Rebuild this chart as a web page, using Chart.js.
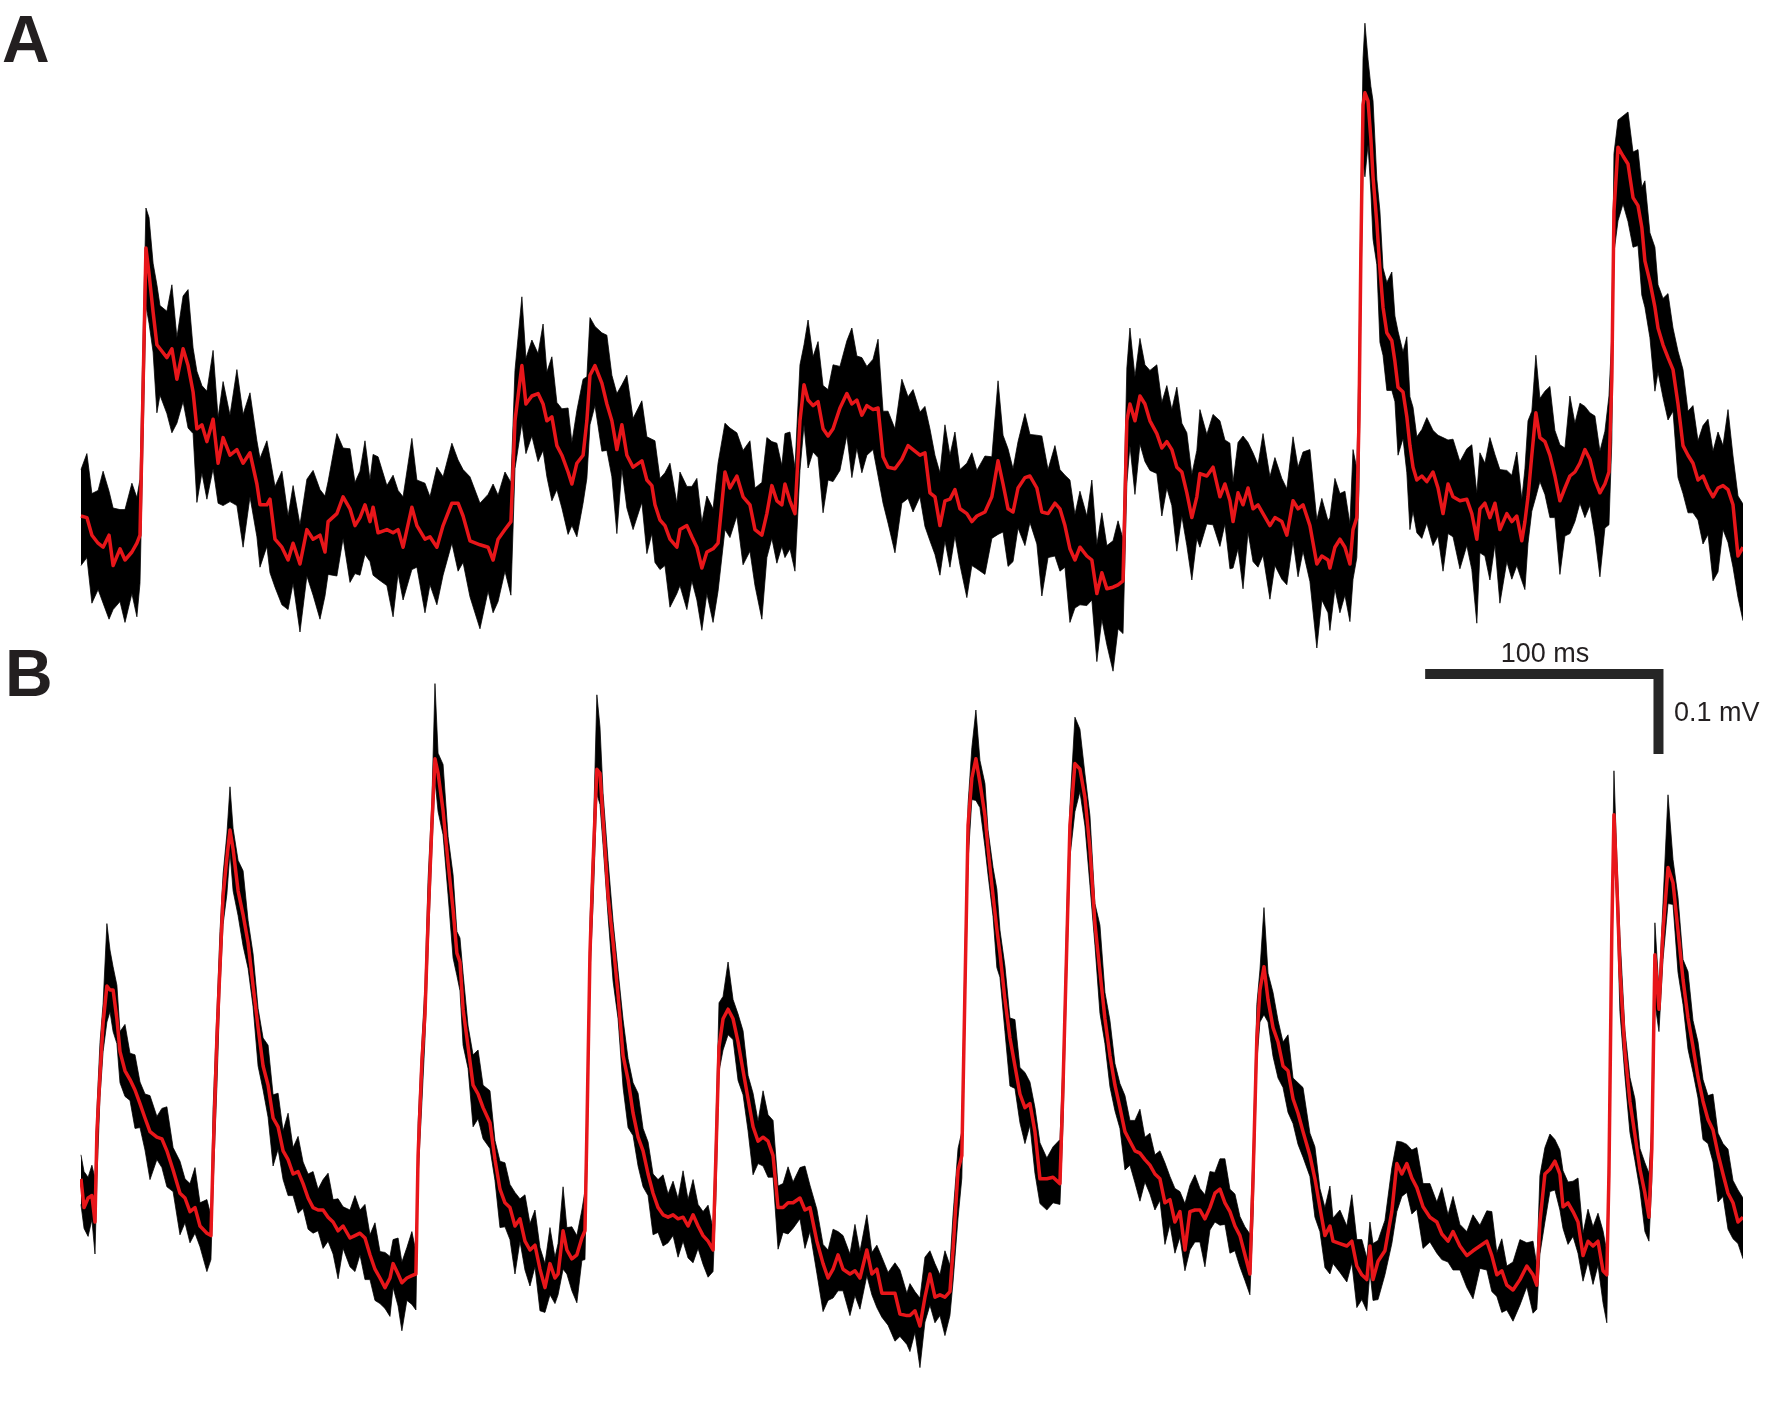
<!DOCTYPE html>
<html>
<head>
<meta charset="utf-8">
<title>Field potential traces A and B</title>
<script src="https://cdn.jsdelivr.net/npm/chart.js@4.4.0/dist/chart.umd.min.js"></script>
<style>
  body { margin: 0; width: 1772px; height: 1412px; background: #fff; position: relative; overflow: hidden; font-family: "Liberation Sans", Arial, sans-serif; }
  canvas { position: absolute; left: 0; }
  #traceA { top: 0; }
  #traceB { top: 640px; }
  .panel { position: absolute; font-weight: bold; font-size: 66px; line-height: 1; color: #231f20; }
  .bar-label { position: absolute; font-size: 27px; line-height: 1; color: #231f20; white-space: nowrap; }
</style>
</head>
<body>
<canvas id="traceA" width="1772" height="700"></canvas>
<canvas id="traceB" width="1772" height="772"></canvas>
<div class="panel" style="left:2px; top:6px;">A</div>
<div class="panel" style="left:5px; top:640px;">B</div>
<div class="bar-label" style="left:1545px; top:640px; transform:translateX(-50%);">100 ms</div>
<div class="bar-label" style="left:1674px; top:699px;">0.1 mV</div>
<script>
// time in ms, voltage in µV (relative)
// trace A
const timeA = [0.4,2.9,5.0,7.6,9.7,12.2,13.9,16.8,18.9,21.8,23.9,25.2,27.7,29.0,30.7,32.3,33.6,36.5,38.6,40.7,43.3,45.4,47.5,49.1,51.2,53.3,55.9,58.0,60.1,63.0,65.9,68.5,71.4,74.3,75.6,78.5,79.8,81.9,84.8,87.4,89.5,92.4,95.3,97.9,100.8,102.9,104.2,107.9,110.5,113.4,115.5,117.6,119.7,121.8,123.1,125.2,128.9,131.5,133.6,135.7,139.4,141.5,144.9,147.0,149.9,152.5,156.2,158.8,160.9,163.8,168.0,171.4,
  173.5,175.6,178.5,181.0,182.7,185.6,187.3,189.8,192.4,194.5,196.1,198.2,200.3,202.4,205.0,206.6,208.7,211.3,212.9,214.2,216.3,219.2,221.3,223.4,225.5,227.6,229.7,232.3,236.0,238.1,240.2,241.5,243.6,245.7,247.8,250.7,252.0,254.9,257.0,259.1,261.2,263.3,265.9,268.0,270.9,273.0,275.9,278.5,281.4,283.5,286.4,288.5,290.6,292.7,294.8,296.1,298.2,300.3,302.4,304.1,305.8,307.9,310.0,312.1,314.2,316.3,319.2,322.1,324.2,326.3,328.4,330.5,333.1,335.2,337.3,339.4,342.3,345.2,347.8,
  349.9,352.8,354.9,357.0,359.1,361.2,363.3,365.4,367.5,369.6,372.5,374.6,376.7,380.1,383.0,385.6,387.7,389.8,391.9,394.0,396.9,399.0,401.9,404.0,406.6,409.5,411.6,413.7,415.8,417.9,420.0,422.9,425.0,427.1,429.2,431.3,433.9,436.0,438.1,439.7,441.0,443.1,445.2,447.3,449.4,452.3,454.4,456.5,458.6,460.7,462.8,464.9,467.0,469.1,470.4,473.3,475.9,478.8,480.9,483.0,484.3,486.4,488.5,490.6,492.7,494.8,496.9,499.8,501.9,504.8,506.9,509.5,511.6,513.7,516.6,519.5,521.6,524.2,
  525.0,527.1,529.2,531.3,533.4,534.7,536.3,537.2,538.0,538.9,539.7,541.0,542.2,543.1,544.7,546.0,547.3,548.9,551.0,552.3,553.6,555.7,557.3,558.6,559.9,561.5,563.6,565.7,568.3,570.4,572.5,574.6,576.7,579.6,582.5,584.6,586.7,588.0,590.1,592.2,594.3,596.4,599.3,601.4,603.5,605.6,606.9,608.2,609.8,611.5,613.2,615.3,617.4,619.5,621.6,623.7,625.8,627.9,630.0,632.1,634.2,636.3,638.4,640.5,642.2,643.4,644.3,646.0,648.1,650.2,652.3,654.4,656.0,657.3,659.4,661.5,662.8,664.9,667.0,669.1,671.2,673.3,675.4,677.5,679.6,681.7,683.8,685.9,688.0,690.1,692.2,694.3,696.4,698.5];
// smoothed (red)
const redA = [105,103,81,71,66,81,43,64,50,60,71,81,440,408,360,319,314,303,314,276,314,293,260,214,219,198,226,171,203,181,188,171,184,145,119,119,126,76,66,50,71,45,88,76,81,60,98,108,129,114,93,103,119,98,116,84,88,84,88,66,116,93,76,79,66,93,121,121,105,74,69,66,
  50,76,88,98,224,293,245,255,258,245,224,229,193,181,160,145,171,181,224,281,293,271,245,224,188,219,181,166,174,150,143,119,100,93,76,66,88,93,79,66,40,60,64,71,160,140,155,129,119,88,81,108,143,124,119,145,124,108,224,269,250,243,248,214,205,214,240,258,245,250,231,243,238,240,179,166,164,176,193,
  188,181,184,134,129,93,124,126,138,114,108,98,105,110,129,174,145,114,110,140,153,155,140,110,108,121,114,93,64,50,66,55,50,8,34,14,16,19,24,224,245,224,255,245,224,208,190,198,188,166,160,134,103,129,158,155,166,129,145,124,98,134,119,140,114,119,108,93,103,98,81,124,114,119,93,45,55,50,
  40,66,76,66,45,88,103,224,434,619,634,624,576,529,471,414,366,334,324,298,266,260,229,193,166,150,155,148,160,140,108,145,129,124,126,108,76,114,121,103,121,88,108,98,105,74,98,129,181,234,203,198,181,155,124,140,155,160,171,188,176,150,134,145,160,276,486,566,555,545,503,493,466,424,398,366,340,319,303,288,245,193,181,171,150,155,140,129,140,143,138,119,55,66];
// raw trace, upper envelope
const topA = [163,183,133,137,161,136,115,113,113,146,128,151,490,478,421,394,368,361,394,328,380,388,315,286,268,261,312,228,273,231,288,232,259,199,177,199,178,142,161,105,143,94,151,162,138,130,148,208,190,189,147,161,199,150,182,179,143,156,137,129,202,150,146,129,166,154,196,175,163,154,121,132,
  145,131,160,147,287,379,302,325,308,345,285,304,247,239,240,197,237,276,279,353,342,334,331,281,258,269,281,227,249,204,201,199,152,159,171,121,160,142,142,152,97,130,114,171,221,215,209,187,199,140,147,203,198,196,168,208,210,165,294,319,350,304,323,268,263,294,292,324,340,305,303,292,301,326,236,236,214,276,254,
  263,235,242,214,181,159,219,181,210,163,171,184,162,180,179,274,206,189,164,198,233,207,206,205,163,193,163,156,150,107,136,105,150,69,109,68,74,99,76,290,340,279,327,294,287,294,247,268,238,266,221,209,157,187,238,207,232,224,200,196,147,197,205,197,184,169,208,154,178,152,139,204,166,185,188,100,127,99,
  103,152,133,136,95,188,164,299,488,677,721,676,642,624,526,486,415,397,410,355,336,310,329,254,241,204,213,228,212,206,203,200,201,173,189,194,133,184,171,203,182,163,162,156,185,126,164,224,236,306,252,261,267,212,194,190,255,221,246,242,234,230,186,211,255,331,558,600,605,610,560,563,516,524,459,441,394,377,383,340,311,288,236,243,199,218,226,186,210,193,238,180,130,120];
// raw trace, lower envelope
const bottomA = [43,53,-4,13,-4,-24,-12,-2,-28,8,-21,21,368,346,310,234,256,233,209,221,248,215,208,122,159,126,164,121,118,123,118,66,129,79,41,67,34,16,-6,-12,21,-40,30,6,-24,5,32,30,77,22,33,31,57,48,31,26,18,-21,33,0,38,41,-16,19,-6,31,71,36,47,4,-36,11,
  -16,-2,36,6,164,221,183,205,173,187,154,124,138,115,82,93,79,121,152,219,243,186,187,154,83,164,115,88,122,58,83,47,38,43,-9,8,18,-12,24,0,-38,8,-28,11,88,78,105,44,61,18,-24,53,77,46,67,53,64,36,162,219,165,185,178,109,150,148,162,206,153,190,159,181,188,155,121,96,59,121,127,
  110,129,92,74,57,31,74,41,80,44,3,43,39,32,77,82,85,42,48,90,68,97,70,5,53,55,36,41,-28,-10,-6,-7,0,-77,-24,-56,-89,-36,-42,146,193,132,195,173,162,158,105,140,118,61,105,68,25,77,66,95,94,67,95,39,40,64,14,85,48,41,56,1,43,26,19,74,29,61,23,-60,0,-16,
  -38,14,-16,6,-27,26,53,139,376,549,529,569,510,451,419,322,306,262,262,248,181,202,159,88,111,84,77,96,68,80,36,83,79,39,68,38,-29,59,55,25,69,-4,48,26,43,24,13,71,111,129,148,132,103,103,32,80,83,98,121,103,118,80,29,90,94,198,434,474,495,473,441,443,381,366,328,261,285,253,225,236,153,133,109,109,100,70,82,24,35,88,72,41,3,-26];

// trace B
const timeB = [0.4,1.7,3.4,5.0,6.3,7.1,8.4,9.7,11.3,12.6,13.9,15.5,16.8,18.9,21.0,23.1,25.2,27.3,29.4,32.3,34.4,36.5,39.1,42.0,44.1,46.2,48.3,50.4,53.3,55.0,55.9,57.5,58.8,60.1,61.7,63.0,64.3,66.4,68.5,70.6,72.7,74.8,76.9,79.0,81.1,83.2,85.3,87.4,89.5,91.6,
  93.7,95.8,97.9,100.0,102.1,104.2,106.3,108.4,110.5,113.4,115.5,117.6,119.7,121.8,123.9,126.0,128.1,130.2,131.5,133.6,135.2,137.3,139.4,141.1,142.0,143.6,144.9,146.2,147.8,149.1,150.4,152.5,154.6,156.7,158.3,159.6,160.9,163.0,165.1,167.2,169.3,172.2,174.3,176.4,178.5,180.6,182.7,184.8,186.9,189.0,
  191.1,193.2,195.3,197.4,199.5,200.8,202.9,204.5,206.6,208.7,210.8,212.1,212.9,214.2,215.5,217.1,218.4,219.7,221.8,223.9,226.0,228.1,230.2,232.3,234.4,236.5,238.6,240.7,242.8,244.9,247.0,249.1,251.2,253.3,255.4,257.5,259.6,261.7,263.8,265.9,267.1,268.4,270.1,272.2,274.3,276.4,278.5,280.6,282.7,284.8,
  286.9,289.0,291.1,293.2,295.3,297.4,299.5,302.4,304.5,306.6,309.5,312.1,314.2,316.3,318.4,320.5,323.4,325.5,327.6,330.5,332.6,334.7,336.8,339.4,342.3,344.4,347.3,348.6,350.7,352.8,354.9,357.0,359.1,361.2,363.3,365.4,366.7,368.8,370.4,371.7,373.0,374.6,376.3,378.0,380.1,381.4,383.5,385.1,386.4,388.5,
  390.6,392.7,394.8,396.9,399.0,401.1,403.2,406.1,408.7,411.6,412.9,414.5,415.8,417.9,420.0,422.1,424.2,426.3,428.4,430.5,432.6,434.7,436.8,438.9,441.0,443.1,445.2,447.3,449.4,451.5,453.6,455.7,457.8,459.9,462.0,464.1,466.2,468.3,470.4,472.5,474.6,476.7,478.8,480.9,483.0,485.1,487.2,489.3,491.4,492.7,
  494.3,495.6,497.3,499.0,501.1,503.2,505.3,507.4,509.5,511.6,513.7,516.6,518.7,520.8,522.9,525.0,526.3,529.2,532.1,534.2,536.3,538.4,540.5,541.8,543.1,545.2,548.1,551.0,553.1,555.2,557.3,559.4,561.5,564.1,567.0,569.9,572.0,574.6,576.7,579.6,582.5,585.1,588.0,590.9,593.0,595.1,597.2,599.3,601.9,604.8,
  607.7,610.3,611.9,613.2,615.3,617.4,619.5,621.6,622.9,625.0,627.1,629.2,631.3,633.4,635.5,637.6,639.7,641.3,642.2,643.4,644.3,645.5,646.8,648.9,651.0,653.1,655.2,657.3,659.0,660.2,661.5,663.2,664.9,667.0,669.1,671.2,673.3,675.4,677.5,679.6,681.7,683.8,685.9,688.0,690.1,692.2,694.3,696.4,698.5];
const redB = [189,153,165,168,135,248,319,384,430,425,425,389,348,324,313,300,283,265,248,241,239,224,200,171,165,148,153,130,121,118,218,365,454,543,590,625,601,549,519,484,430,378,330,306,265,254,224,213,195,198,
  183,165,153,150,150,141,135,124,130,115,118,121,115,94,76,65,53,65,83,70,59,65,68,70,218,336,395,513,631,714,696,649,584,525,471,460,401,354,306,295,278,259,213,176,159,153,130,139,111,100,
  106,76,53,83,65,70,124,100,89,94,115,124,248,471,584,701,696,638,543,484,419,343,313,271,241,224,195,171,153,144,141,144,139,141,130,144,130,118,111,100,218,354,389,401,389,360,324,289,254,236,
  241,236,218,153,153,159,159,165,150,153,111,83,65,76,94,76,70,74,65,100,70,76,46,46,46,20,18,18,24,5,41,70,41,44,41,48,100,200,218,425,631,690,714,684,643,601,543,501,471,413,
  365,330,295,278,283,248,189,189,191,183,306,484,631,708,701,666,601,508,448,389,343,306,278,248,236,224,221,213,206,195,189,159,163,135,148,100,148,150,150,139,153,171,176,159,148,130,118,94,70,189,
  365,425,454,413,378,360,330,324,289,271,248,218,189,153,118,130,111,108,105,111,80,69,63,105,63,86,99,148,208,195,208,190,178,154,141,135,120,111,123,105,93,99,105,111,93,69,74,56,50,63,
  80,69,56,135,195,201,211,195,154,159,148,135,93,111,105,111,74,69,195,499,644,559,450,348,286,244,201,171,141,226,469,401,499,578,559,499,438,390,354,316,286,263,250,220,195,171,159,135,141];
const topB = [219,198,191,206,190,276,359,408,508,475,454,431,373,382,346,344,310,295,293,267,277,279,228,211,189,183,203,159,163,143,276,398,498,570,620,679,627,587,574,512,470,402,365,356,294,296,249,271,228,242,
  210,195,198,176,188,196,163,164,154,150,168,150,157,119,134,98,97,92,113,115,85,103,123,98,258,360,430,563,660,808,721,707,617,569,498,490,446,380,344,350,306,299,237,211,209,182,172,164,169,133,
  150,103,83,128,91,108,179,128,129,118,150,174,277,513,609,794,754,671,587,511,449,388,339,309,296,252,235,195,188,194,170,186,164,199,163,188,157,148,156,126,256,409,417,460,413,395,374,318,296,261,
  299,269,262,180,183,204,185,203,205,181,151,107,100,126,123,118,95,132,98,144,97,106,91,72,84,75,46,58,48,40,91,99,83,69,99,81,144,227,248,470,657,728,775,712,683,625,578,551,500,455,
  390,388,328,322,310,278,234,215,229,238,334,524,655,766,751,695,643,533,506,422,387,333,308,293,262,262,276,241,246,219,224,209,192,177,173,158,181,194,177,169,198,197,214,214,176,170,142,129,120,218,
  407,450,528,446,422,387,360,369,315,309,303,246,229,177,153,180,140,150,130,169,113,113,90,135,108,112,137,203,236,235,232,225,228,183,183,160,178,144,167,132,123,144,131,149,148,97,114,80,85,113,
  109,111,81,193,228,245,238,225,199,185,186,190,121,151,129,146,124,98,237,524,699,592,494,375,316,289,227,209,196,254,509,425,534,669,588,541,463,448,387,360,313,293,295,246,233,226,187,175,165];
const bottomB = [157,127,117,138,95,188,291,348,385,398,373,358,309,292,287,252,253,225,188,213,203,179,173,119,134,109,121,104,73,88,178,305,426,507,545,598,549,518,480,452,404,330,300,266,205,226,188,168,168,146,
  152,126,121,124,102,111,95,64,102,79,73,94,63,63,37,33,27,17,53,30,-1,37,32,25,191,284,364,474,599,688,648,619,544,465,443,424,356,327,254,264,239,227,187,128,129,113,70,111,75,55,
  79,24,22,44,33,44,76,70,49,34,87,88,203,444,532,670,657,606,517,436,389,303,253,243,205,179,168,119,122,105,109,118,91,111,90,84,102,82,66,73,166,323,350,369,363,312,294,249,194,208,
  205,191,191,101,122,120,127,139,102,123,71,23,37,40,49,49,18,43,26,68,44,28,16,6,-14,-8,-18,-27,-3,-47,10,31,9,18,-7,18,60,140,190,389,586,663,662,653,604,569,517,453,441,373,
  305,302,259,233,256,196,158,150,159,157,258,454,591,648,673,630,556,481,396,358,304,274,252,200,206,184,161,185,170,150,162,107,132,96,116,74,100,110,110,79,125,135,131,132,96,99,79,62,44,141,
  335,385,394,385,342,315,303,272,258,232,216,192,141,123,78,70,83,72,60,84,28,38,24,73,37,38,69,108,148,167,172,145,151,102,110,96,88,85,75,75,53,39,77,75,48,42,22,25,11,31,
  54,21,26,95,135,173,175,150,127,107,117,96,61,85,57,81,34,9,167,463,599,532,398,317,247,212,175,123,111,186,409,373,463,533,532,447,407,351,322,290,238,233,210,160,167,126,114,108,89];

// scale bar (drawn in trace B units)
const scaleBarStart = 565;   // ms
const scaleBarMs = 100;      // 100 ms
const scaleBarLevel = 820;   // µV
const scaleBarUv = 100;      // 0.1 mV

const redColour = 'rgb(232, 22, 26)';
const timeMax = 698.5;

Chart.defaults.elements.point.radius = 0;
Chart.defaults.elements.line.tension = 0;

function toPoints(times, values) {
    return times.map((t, i) => ({ x: t, y: values[i] }));
}

// one panel = raw trace (black band) + smoothed trace (red)
function makeTrace(canvasId, times, red, top, bottom, yMin, yMax, extraSets) {
    const datasets = [
        { label: 'smoothed', data: toPoints(times, red), borderColor: redColour, borderWidth: 3.5, borderJoinStyle: 'round', fill: false, order: 0 },
        { label: 'raw upper', data: toPoints(times, top), borderColor: 'rgba(0,0,0,0.75)', borderWidth: 1, fill: false, order: 2 },
        { label: 'raw lower', data: toPoints(times, bottom), borderColor: 'rgba(0,0,0,0.75)', borderWidth: 1, backgroundColor: '#000', fill: 1, order: 1 }
    ].concat(extraSets || []);

    return new Chart(document.getElementById(canvasId), {
        type: 'line',
        data: { datasets: datasets },
        options: {
            responsive: false,
            animation: false,
            devicePixelRatio: 1,
            events: [],
            layout: { padding: { left: 80, right: 29, top: 0, bottom: 0 } },
            plugins: { legend: { display: false }, tooltip: { enabled: false } },
            scales: {
                x: { type: 'linear', min: 0, max: timeMax, display: false },
                y: { type: 'linear', min: yMin, max: yMax, display: false }
            }
        }
    });
}

makeTrace('traceA', timeA, redA, topA, bottomA, -125, 750);

const scaleBar = {
    label: 'scale bar',
    data: [
        { x: scaleBarStart, y: scaleBarLevel },
        { x: scaleBarStart + scaleBarMs - 2, y: scaleBarLevel },
        { x: scaleBarStart + scaleBarMs - 2, y: scaleBarLevel - scaleBarUv }
    ],
    borderColor: '#262626',
    borderWidth: 10,
    borderJoinStyle: 'miter',
    borderCapStyle: 'butt',
    fill: false,
    order: 0
};

makeTrace('traceB', timeB, redB, topB, bottomB, -102.5, 862.5, [scaleBar]);
</script>
</body>
</html>
